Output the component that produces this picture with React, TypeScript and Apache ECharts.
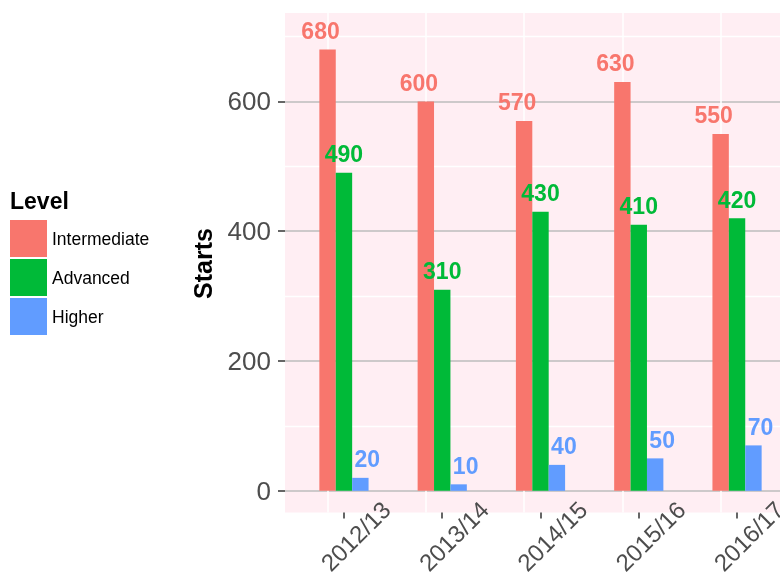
import React, { useEffect, useRef } from 'react';
import * as echarts from 'echarts';

const categories = ['2012/13', '2013/14', '2014/15', '2015/16', '2016/17'];
const seriesNames = ['Intermediate', 'Advanced', 'Higher'];
const intermediate = [680, 600, 570, 630, 550];
const advanced = [490, 310, 430, 410, 420];
const higher = [20, 10, 40, 50, 70];
const yMajorTicks = [0, 200, 400, 600];
const yMinorTicks = [100, 300, 500, 700];
const legendTitle = 'Level';
const yAxisTitle = 'Starts';

const colors = ['#F8766D', '#00BA38', '#619CFF'];
const labelShift = [-7, 0, 7];
const FONT = '"Liberation Sans", Arial, sans-serif';

export default function App() {
  const ref = useRef<HTMLDivElement>(null);

  useEffect(() => {
    if (!ref.current) return;
    const chart = echarts.init(ref.current, null, { renderer: 'svg' });
    const catPos = categories.map((_, i) => i + 1);
    const values = [intermediate, advanced, higher];

    const markData: any[] = [
      ...yMinorTicks.map((v) => ({ yAxis: v, lineStyle: { color: '#FFFFFF', width: 1.3, type: 'solid' } })),
      ...yMajorTicks.map((v) => ({ yAxis: v, lineStyle: { color: '#BDBDBD', width: 1.5, type: 'solid' } })),
      ...catPos.map((v) => ({ xAxis: v, lineStyle: { color: '#FFFFFF', width: 1.5, type: 'solid' } })),
    ];

    const series: any[] = seriesNames.map((name, s) => ({
      name,
      type: 'bar',
      data: values[s].map((v, i) => [catPos[i], v]),
      barWidth: 16.4,
      barGap: '0%',
      itemStyle: { color: colors[s] },
      z: 3,
      label: {
        show: true,
        position: 'top',
        distance: 7,
        offset: [labelShift[s], 0],
        color: colors[s],
        fontSize: 23,
        fontWeight: 'bold',
        fontFamily: FONT,
      },
      ...(s === 0
        ? {
            markLine: {
              silent: true,
              symbol: 'none',
              z: 1,
              animation: false,
              label: { show: false },
              data: markData,
            },
          }
        : {}),
    }));

    chart.setOption({
      animation: false,
      title: [
        {
          text: legendTitle,
          left: 5,
          top: 184,
          textStyle: { fontSize: 23, fontWeight: 'bold', color: '#000', fontFamily: FONT },
        },
      ],
      legend: {
        data: seriesNames,
        orient: 'vertical',
        left: 5,
        top: 215,
        icon: 'rect',
        itemWidth: 37,
        itemHeight: 37,
        itemGap: 2,
        textStyle: { fontSize: 17.5, color: '#000', fontFamily: FONT },
      },
      grid: {
        left: 285,
        top: 13,
        width: 511,
        height: 499.5,
        show: true,
        backgroundColor: '#FFEEF3',
        borderWidth: 0,
        containLabel: false,
        outerBoundsMode: 'none',
      },
      xAxis: {
        type: 'value',
        min: 0.4,
        max: 5.6,
        axisLine: { show: false, onZero: false },
        splitLine: { show: false },
        axisTick: {
          show: true,
          customValues: catPos,
          length: 6,
          lineStyle: { color: '#333', width: 1.5 },
        },
        axisLabel: {
          customValues: catPos,
          formatter: (v: number) => categories[Math.round(v) - 1] ?? '',
          rotate: 45,
          align: 'center',
          verticalAlign: 'top',
          lineHeight: 33,
          margin: 12,
          fontSize: 24,
          color: '#4D4D4D',
          fontFamily: FONT,
        },
      },
      yAxis: {
        type: 'value',
        min: -33.4,
        max: 736.3,
        axisLine: { show: false },
        splitLine: { show: false },
        axisTick: {
          show: true,
          customValues: yMajorTicks,
          length: 7,
          lineStyle: { color: '#333', width: 1.5 },
        },
        axisLabel: {
          customValues: yMajorTicks,
          margin: 14,
          fontSize: 26,
          color: '#4D4D4D',
          fontFamily: FONT,
        },
      },
      graphic: [
        {
          type: 'text',
          x: 203,
          y: 263.5,
          rotation: Math.PI / 2,
          style: {
            text: yAxisTitle,
            align: 'center',
            verticalAlign: 'middle',
            fontSize: 25,
            fontWeight: 'bold',
            fill: '#000',
            fontFamily: FONT,
          },
        },
      ],
      series,
    });

    return () => chart.dispose();
  }, []);

  return (
    <div
      ref={ref}
      style={{ position: 'fixed', left: 0, top: 0, width: 780, height: 575 }}
    />
  );
}
